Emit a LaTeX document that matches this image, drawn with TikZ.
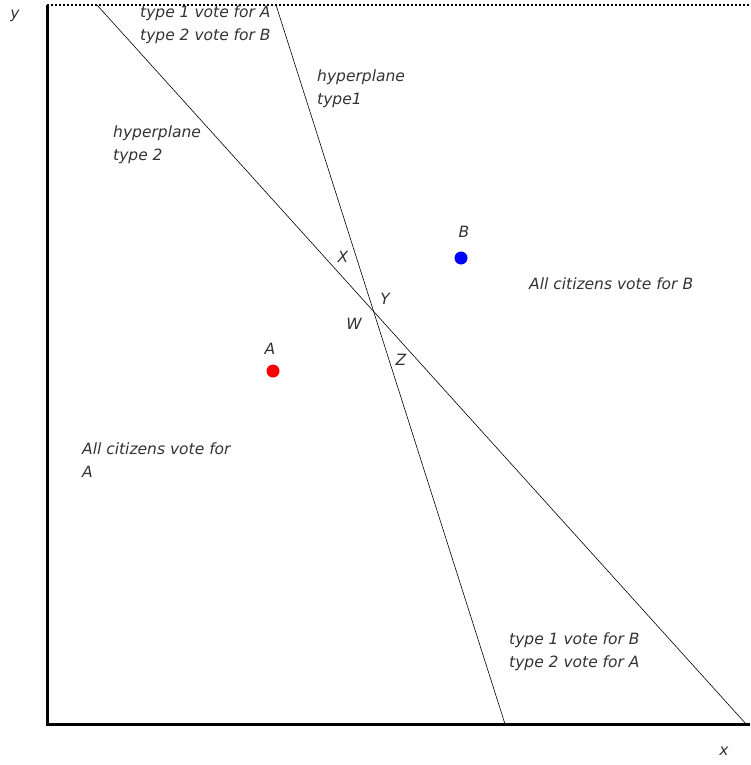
\documentclass[tikz,border=0pt]{standalone}
\usepackage{fontspec}
\setmainfont{DejaVu Sans}
\usetikzlibrary{positioning}

\begin{document}
\begin{tikzpicture}[x=1pt, y=-1pt,
    % style for the plain italic labels
    every node/.style={
        font=\fontsize{15.5}{23}\selectfont\itshape,
        text=black!80,
        inner sep=0pt
    },
    region label/.style={anchor=west, align=left},
    % style for the two hyperplanes
    plane style/.style={
        draw=black,
        line width=0.6pt
    },
    % style for the candidates
    candidate/.style={
        circle,
        minimum size=13pt,
        inner sep=0pt
    }
]
    \useasboundingbox (0,0) rectangle (750,765);

    % axes
    \coordinate (origin) at (47,724);
    \coordinate (ytop) at (47,5);
    \coordinate (xend) at (750,724);
    \coordinate (topend) at (750,5);
    \draw[line width=3pt] (ytop) -- (origin) -- (xend);
    \draw[dotted, line width=2pt] (ytop) -- (topend);
    \node (ylab) at (15,16) {y};
    \node (xlab) at (724,751) {x};

    % hyperplanes
    \coordinate (p2top) at (97,5);
    \coordinate (p2bot) at (746,724);
    \coordinate (p1top) at (276,5);
    \coordinate (p1bot) at (505,724);
    \begin{scope}[plane style]
        \draw (p2top) -- (p2bot);
        \draw (p1top) -- (p1bot);
    \end{scope}

    % candidates
    \node[candidate, fill=red] (A) at (273,371) {};
    \node[candidate, fill=blue] (B) at (461,258) {};
    \node (Alab) at (270,349) {A};
    \node (Blab) at (464,232) {B};

    % points around the crossing
    \node (X) at (343,257) {X};
    \node (Y) at (385,299) {Y};
    \node (W) at (354,324) {W};
    \node (Z) at (401,360) {Z};

    % region texts
    \node[region label] (topreg) at (140,25) {type 1 vote for A\\type 2 vote for B};
    \node[region label] (h1lab) at (317,89) {hyperplane\\type1};
    \node[region label] (h2lab) at (113,145) {hyperplane\\type 2};
    \node[region label] (regB) at (529,284) {All citizens vote for B};
    \node[region label] (regA) at (82,460) {All citizens vote for\\A};
    \node[region label] (botreg) at (509,652) {type 1 vote for B\\type 2 vote for A};

\end{tikzpicture}
\end{document}
